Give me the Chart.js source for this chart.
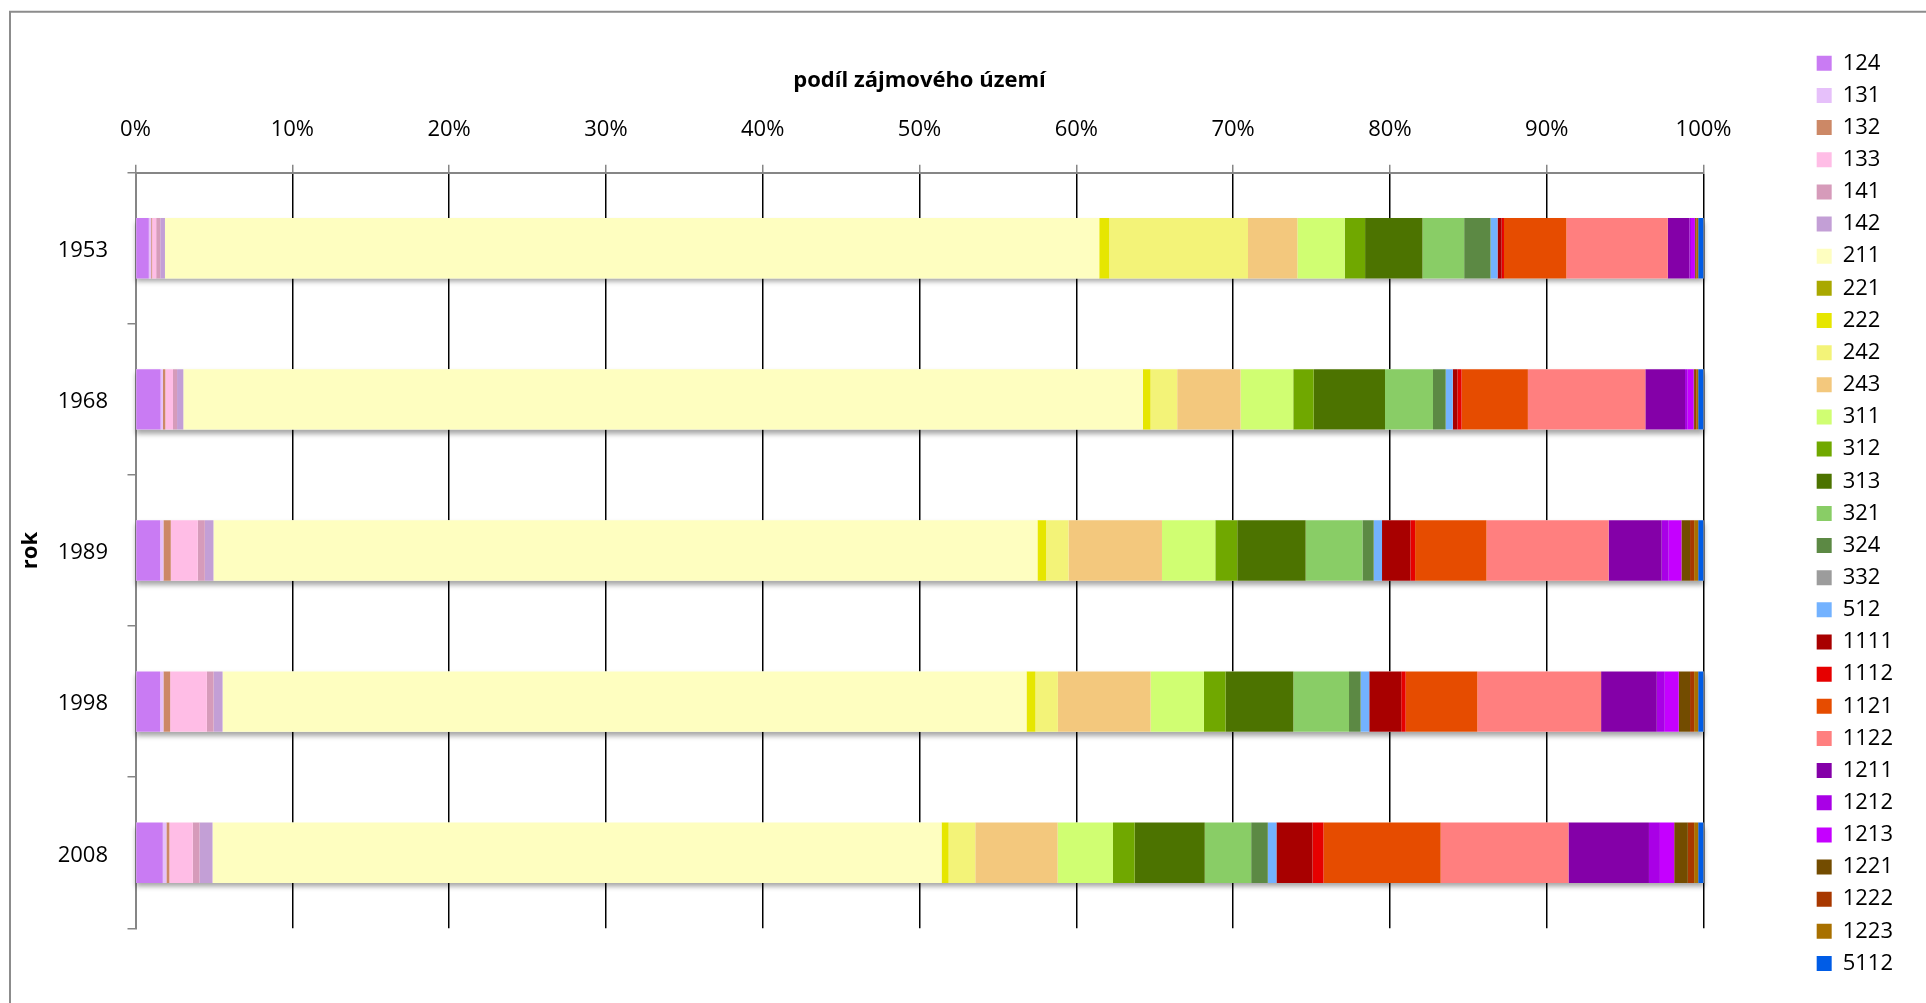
<!DOCTYPE html>
<html>
<head>
<meta charset="utf-8">
<script src="https://cdn.jsdelivr.net/npm/chart.js@4.4.1/dist/chart.umd.min.js"></script>
<style>
  html, body { margin: 0; padding: 0; background: #fff; }
  #wrap { width: 1926px; height: 1003px; }
</style>
</head>
<body>
<div id="wrap"><canvas id="chart" width="1926" height="1003"></canvas></div>
<script>
// roky (kategorie osy y)
const years = ['1953', '1968', '1989', '1998', '2008'];

// kódy tříd land-use a jejich barvy
const codes = ['124', '131', '132', '133', '141', '142', '211', '221', '222', '242', '243',
               '311', '312', '313', '321', '324', '332', '512', '1111', '1112', '1121', '1122',
               '1211', '1212', '1213', '1221', '1222', '1223', '5112'];
const colors = ['#C97BF3', '#E6C0FA', '#CC8866', '#FFBDE6', '#D69BBA', '#C39FD6', '#FEFEC0', '#A9A800',
                '#E6E600', '#F3F378', '#F3C87D', '#D0FE72', '#70A800', '#4C7300', '#89CD66', '#5C8944',
                '#9C9C9C', '#73B2FF', '#A80000', '#E60000', '#E64C00', '#FF7F7F', '#8400A8', '#A900E6',
                '#C500FF', '#734C00', '#A83800', '#A87000', '#005CE6'];

// podíl jednotlivých tříd (%) v pořadí podle `codes`
const share1953 = [0.85, 0.15, 0.06, 0.26, 0.26, 0.30, 59.60, 0, 0.64, 8.85, 3.15,
                   3.02, 1.30, 3.66, 2.66, 1.68, 0, 0.45, 0.26, 0.15, 3.98, 6.47,
                   1.38, 0.10, 0.25, 0.06, 0.05, 0.10, 0.34];
const share1968 = [1.60, 0.15, 0.15, 0.49, 0.26, 0.40, 61.18, 0, 0.49, 1.70, 4.04,
                   3.36, 1.30, 4.55, 3.06, 0.81, 0, 0.45, 0.30, 0.26, 4.23, 7.49,
                   2.53, 0.17, 0.38, 0.08, 0.08, 0.13, 0.34];
const share1989 = [1.57, 0.21, 0.47, 1.72, 0.45, 0.55, 52.54, 0, 0.55, 1.43, 5.96,
                   3.40, 1.40, 4.36, 3.62, 0.72, 0, 0.53, 1.81, 0.30, 4.55, 7.79,
                   3.38, 0.45, 0.81, 0.55, 0.26, 0.26, 0.34];
const share1998 = [1.57, 0.21, 0.43, 2.34, 0.43, 0.57, 51.25, 0, 0.57, 1.43, 5.91,
                   3.40, 1.38, 4.32, 3.55, 0.74, 0, 0.55, 2.04, 0.28, 4.57, 7.89,
                   3.55, 0.51, 0.89, 0.72, 0.26, 0.26, 0.34];
const share2008 = [1.74, 0.23, 0.19, 1.49, 0.43, 0.83, 46.48, 0, 0.45, 1.70, 5.25,
                   3.53, 1.38, 4.47, 2.96, 1.06, 0, 0.55, 2.30, 0.70, 7.47, 8.15,
                   5.13, 0.70, 0.91, 0.87, 0.40, 0.26, 0.34];

const xTicks = [0, 10, 20, 30, 40, 50, 60, 70, 80, 90, 100];

const FONT = 'Open Sans';

// 100% skládaný graf: každý rok přepočítat na součet 100
const byYear = [share1953, share1968, share1989, share1998, share2008].map(row => {
    const total = row.reduce((a, b) => a + b, 0);
    return row.map(v => v / total * 100);
});

const datasets = codes.map((code, i) => ({
    label: code,
    data: byYear.map(row => row[i]),
    backgroundColor: colors[i],
    borderWidth: 0,
    xAxisID: 'x',
    yAxisID: 'y'
}));

// rámeček kolem grafu (jako v Excelu)
const framePlugin = {
    id: 'frame',
    beforeDraw(chart) {
        const ctx = chart.ctx;
        ctx.save();
        ctx.strokeStyle = '#8c8c8c';
        ctx.lineWidth = 2;
        ctx.beginPath();
        ctx.moveTo(10, chart.height + 5);
        ctx.lineTo(10, 11.7);
        ctx.lineTo(chart.width + 5, 11.7);
        ctx.stroke();
        ctx.restore();
    }
};

// stín pod celým pruhem
const shadowPlugin = {
    id: 'barShadow',
    beforeDatasetsDraw(chart) {
        const first = chart.getDatasetMeta(0).data;
        const last = chart.getDatasetMeta(chart.data.datasets.length - 1).data;
        const ctx = chart.ctx;
        ctx.save();
        ctx.shadowColor = 'rgba(0,0,0,0.35)';
        ctx.shadowBlur = 5;
        ctx.shadowOffsetY = 4;
        ctx.fillStyle = '#fff';
        first.forEach((bar, i) => {
            const p = bar.getProps(['y', 'base', 'height'], true);
            const end = last[i].getProps(['x'], true).x;
            ctx.fillRect(p.base, p.y - p.height / 2, end - p.base, p.height);
        });
        ctx.restore();
    }
};

new Chart(document.getElementById('chart'), {
    type: 'bar',
    data: { labels: years, datasets: datasets },
    plugins: [framePlugin, shadowPlugin],
    options: {
        indexAxis: 'y',
        responsive: false,
        devicePixelRatio: 1,
        animation: false,
        barPercentage: 0.4,
        categoryPercentage: 1.0,
        layout: { padding: { left: 12, top: 23.8, right: 23, bottom: 0 } },
        scales: {
            x: {
                type: 'linear',
                position: 'top',
                stacked: true,
                min: 0,
                max: 100,
                afterBuildTicks: s => { s.ticks = xTicks.map(v => ({ value: v })); },
                ticks: {
                    callback: v => v + '%',
                    color: '#000',
                    font: { family: FONT, size: 22 },
                    padding: 21.5,
                    maxRotation: 0
                },
                grid: { color: '#000', lineWidth: 1.5, tickColor: '#868686', tickLength: 8 },
                border: { color: '#868686', width: 2 },
                title: {
                    display: true,
                    text: 'podíl zájmového území',
                    color: '#000',
                    font: { family: FONT, size: 22, weight: 'bold' },
                    padding: { top: 44, bottom: 0 }
                },
                afterFit: s => { s.height = 148.9; }
            },
            y: {
                type: 'category',
                stacked: true,
                grid: { display: true, drawOnChartArea: false, offset: true, color: '#868686', tickLength: 8, lineWidth: 1.5 },
                border: { color: '#868686', width: 2 },
                ticks: { color: '#000', font: { family: FONT, size: 22 }, padding: 19.5, labelOffset: 2.5 },
                title: {
                    display: true,
                    text: 'rok',
                    color: '#000',
                    font: { family: FONT, size: 22, weight: 'bold' },
                    padding: { top: 5.8, bottom: 0 }
                },
                afterFit: s => { s.width = 123.5; }
            },
            // prázdné osy jen pro odsazení plochy grafu
            xPad: {
                axis: 'x', type: 'linear', position: 'bottom', display: true,
                grid: { display: false }, ticks: { display: false }, border: { display: false },
                afterFit: s => { s.height = 74.7; }
            },
            yPad: {
                axis: 'y', type: 'linear', position: 'right', display: true,
                grid: { display: false }, ticks: { display: false }, border: { display: false },
                afterFit: s => { s.width = 103; }
            }
        },
        plugins: {
            legend: {
                position: 'right',
                align: 'center',
                labels: {
                    boxWidth: 15,
                    boxHeight: 15,
                    padding: 10.15,
                    color: '#000',
                    font: { family: FONT, size: 22 }
                }
            },
            tooltip: { enabled: false }
        }
    }
});
</script>
</body>
</html>
